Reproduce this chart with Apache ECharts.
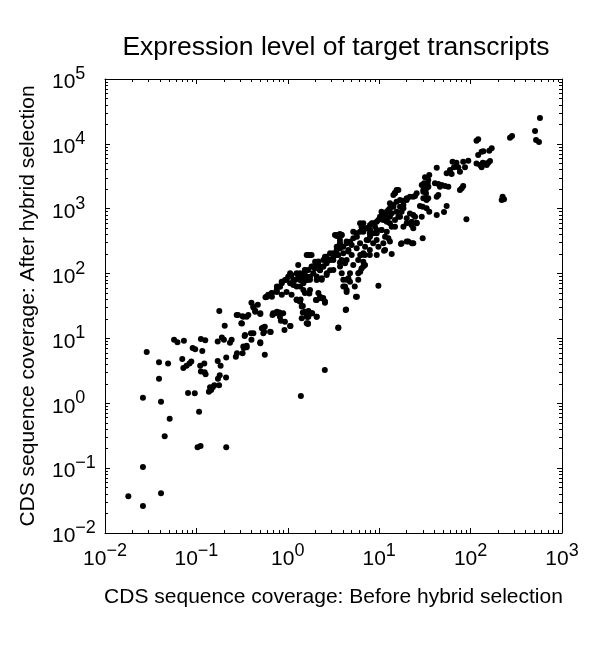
<!DOCTYPE html>
<html><head><meta charset="utf-8">
<script src="https://cdn.jsdelivr.net/npm/echarts@6/dist/echarts.min.js"></script>
<style>html,body{margin:0;padding:0;background:#fff}#c{width:600px;height:648px}</style>
</head><body><div id="c"></div>
<script>
const titleText = 'Expression level of target transcripts';
const xName = 'CDS sequence coverage: Before hybrid selection';
const yName = 'CDS sequence coverage: After hybrid selection';
const xTickExps = [-2, -1, 0, 1, 2, 3];
const yTickExps = [-2, -1, 0, 1, 2, 3, 4, 5];

// [before, after] CDS coverage per transcript
const samples = [
[0.0286,6.2],[0.026,1.22],[0.026,0.104],[0.018,0.037],[0.026,0.026],[0.041,0.041],
[0.039,4.3],[0.039,2.4],[0.041,1.06],[0.045,0.31],[0.051,0.58],[0.049,4.1],
[0.057,9.5],[0.062,8.7],[0.073,9.2],[0.070,4.8],[0.072,3.5],[0.078,3.8],[0.084,4.1],[0.088,4.4],
[0.081,1.44],[0.096,1.43],[0.091,7.1],[0.097,6.8],[0.116,6.4],[0.112,9.8],[0.125,9.4],
[0.110,3.8],[0.122,4.1],[0.123,3.0],[0.112,3.1],[0.126,2.8],[0.107,0.74],[0.103,0.21],[0.111,0.22],[0.212,0.21],
[0.178,26.5],[0.171,9.0],[0.19,10.3],[0.20,9.5],[0.204,15.7],[0.233,8.6],[0.171,4.5],[0.184,3.8],
[0.18,2.7],[0.172,2.4],[0.211,2.5],[0.141,1.77],[0.151,1.77],[0.157,1.9],[0.177,1.9],[0.137,1.5],[0.145,1.6],
[0.212,5.1],[0.27,5.2],[0.278,5.9],[0.32,5.9],[0.33,7.1],[0.355,7.3],[0.337,10.9],[0.315,17],
[0.285,23],[0.32,22],[0.355,21.6],[0.395,12],[0.40,35.6],[0.42,30],[0.44,26.8],[0.47,33],[0.50,23.8],
[0.50,8.7],[0.56,5.6],[0.54,14.7],[0.55,12.7],[0.65,12.6],[0.57,43],[0.61,47],[0.67,44],[0.68,23],[0.73,24.4],[0.81,25],
[0.84,18.8],[0.92,13.5],[1.07,15.6],[0.76,52],[0.86,47],[0.97,52],[1.10,47],[1.25,40],[1.36,37],
[1.46,31.6],[1.54,25.8],[1.65,21.6],[1.66,17.1],[1.39,1.3],
[2.54,3.26],[3.57,14.5],[4.3,27.4],[5.57,44],[1.66,16.7],[2.07,21.6],[1.61,21.6],[1.85,24.4],[1.68,26.5],[1.46,25.2],
[1.38,40],[2.03,39],[2.35,41.5],[2.55,35.6],[1.72,49.5],[4.4,52],
[284,13200],[270,12400],[121,11750],[116,11200],
[132,7570],[138,7670],[121,6730],[170,8550],[160,7850],
[116,5000],[127,4720],[132,4350],[144,5000],[156,5130],[163,5440],[150,4720],[136,5130],
[224,1530],[232,1400],[219,1360],[90,687],[80,2065],[83,2240],[76.5,1945],[42.6,4300],
[63.5,5300],[70,5130],[65.8,4350],[73.3,4350],[83,5300],[86.8,4350],[94.4,5500],[76.5,3720],
[54.7,3520],[62,3430],[59.5,3960],
[31.7,3050],[35.3,3310],[34.4,2770],[30.9,2470],[33.9,2470],
[40.7,2470],[44.3,2400],[48.3,2320],[52.5,2240],[57,2190],[46.2,2190],
[42.6,1530],[44.3,1630],[54.7,1100],[51.2,890],[42.6,800],
[33,2065],[30.4,1945],[32.5,1730],[34.4,1450],[33,1360],[30.4,1450],
[35.3,900],[29.9,1075],[27.9,1100],
[21.7,847],[24.7,753],[25.7,608],[22.6,561],[20,595],[18.4,527],[23.6,499],
[29.9,349],[17.3,286],[20,311],[22.8,293],
[15.5,1945],[14.9,1770],[14.3,1630],
[20,1450],[18.4,1330],[16.9,1360],[21.7,1530],[24.7,1570],
[13.1,1210],[14.3,1075],[12.6,955],[15.5,900],[13.7,849],[16.9,1075],[18.4,1014],
[10.6,900],[10.2,753],[11.6,800],[9.8,670],[11.1,670],[12.1,631],[13.1,595],[14.9,670],[16.9,753],[20,711],
[8.3,595],[9.0,528],[7.3,499],[7.9,418],[9.4,418],[10.6,470],[12.1,443],[13.7,528],[6.4,528],[6.7,443],
[11.6,371],[13.1,311],[11.6,231],[9.8,260],[8.6,293],[7.6,330],[7.0,260],[7.9,231],[6.7,206],[6.2,194],[5.7,371],[5.2,443],
[3.89,394],[3.43,380],[3.72,330],[4.4,311],[5.0,276],[4.6,231],[4.05,206],[3.57,194],[3.15,162],[3.72,148],[4.4,162],[5.2,136],[5.9,162],[6.4,194],
[3.89,101],[4.4,80],[4.05,63],[4.79,75],[5.9,80],[6.7,128],[7.0,136],[6.2,107],[5.4,63],[5.7,44],[9.8,65],
[1.36,101],[1.54,113],[1.68,193],[1.82,193],[1.61,90],[1.48,80],[1.75,80],[1.99,152],[2.16,136],[2.25,113],[2.44,128],[2.07,90],[2.35,80],
[2.67,101],[2.9,113],[2.78,162],[3.15,206],[3.43,260],[3.72,293],[3.28,394],[3.72,408],[2.55,182],[1.9,128],[1.36,63],[1.54,50],[1.75,56],[2.16,50],[2.25,42],[2.44,42],
[0.243,9.5],[0.326,7.5],[0.355,7.7],[0.40,9.5],[0.50,8.4],[0.34,11.3],[0.42,12],[0.54,12],[0.64,12.7],[0.56,15.2],[0.52,14.3],[0.31,17.1],
[0.276,23],[0.326,21.6],[0.37,23],[0.42,31],[0.44,25.8],[0.50,24.4],[0.59,44],[0.64,46.7],[0.69,24.4],[0.82,21.6],[0.76,25.8],[0.89,24.4],
[0.93,18.1],[1.06,15.6],[1.42,20.4],[1.68,21.6],[1.61,17.1],[2.07,21.6],[1.82,24.4],[1.68,25.8],[1.25,39],[1.36,37],[1.42,31],[2.07,39],[2.25,44],[2.55,37],
[3.57,14.7],[4.34,28],[4.4,56],[4.23,63],[4.05,80],[4.6,85],[4.79,101],[5.9,101],[6.4,120],[6.7,152],[7.0,193],[7.9,193],[9.4,193],
[11.3,225],[13.7,200],[17.6,293],[20.8,311],[23.6,293],
[0.587,44],[0.666,49.6],[0.756,55.8],[0.822,62.8],[0.857,75],[0.932,79.6],[1.01,89.7],[1.06,70.8],[1.15,66.7],[1.2,79.6],[1.30,89.7],[1.36,79.6],
[1.48,70.8],[1.61,79.6],[1.75,89.7],[1.90,101],[1.98,120],[2.07,136],[1.82,128],[1.68,114],[1.54,107],[1.42,95],[1.25,101],[1.10,95],
[2.25,114],[2.45,128],[2.66,144],[2.90,162],[3.15,182],[3.43,193],[2.90,205],[2.66,182],[2.45,162],[2.16,153],[3.43,231],[3.73,245],
[4.05,260],[4.41,293],[4.79,310],[5.21,349],[5.67,418],[6.17,443],[6.70,470],[7.29,499],[7.93,561],[8.63,595],[9.38,631],[10.2,711],
[11.1,800],[12.1,901],[13.1,1014],[14.3,1141],[15.5,1285],[14.9,1726],[16.2,1944],[6.17,595],[6.70,595],[7.93,470],[9.38,470],[10.6,470],
[12.1,670],[13.1,753],[3.43,393],[3.88,393],[3.88,162],[4.23,144],[3.73,128],[3.15,114],[2.66,95],[2.35,84.5],[2.07,79.6],[1.61,193],[1.75,193],
[4.59,218],[5.0,193],[5.67,245],[6.17,293],[7.29,330],[7.93,371],[8.63,418],[9.38,330],[11.1,293],[12.6,349],[14.9,528],[16.2,755],
[17.6,901],[18.4,1141],[20.0,1365],[23.6,1535],[25.7,1726],[29.2,2322],[30.4,1833],[33.0,1445],[23.6,800],[22.7,631],[25.7,595],[29.2,755],
[33.0,1014],[34.5,2190],
[1.30,136],[1.06,101],[0.97,80],[0.86,71],[0.76,63],[0.67,50],[1.15,80],[1.36,90],[1.54,114],[1.25,63],[1.48,56],[1.68,80],
[574,25000],[507,15800],[520,11500],[560,10700]
];

const FONT = 'Liberation Sans';
const xMajor = xTickExps.map(e => Math.pow(10, e));
const yMajor = yTickExps.map(e => Math.pow(10, e));
function minors(exps) {
  const out = [];
  for (let i = 0; i < exps.length - 1; i++) {
    for (let m = 2; m <= 9; m++) out.push(m * Math.pow(10, exps[i]));
  }
  return out;
}
const xMinor = minors(xTickExps);
const yMinor = minors(yTickExps);

function fmt(v) {
  const e = Math.round(Math.log10(v));
  return '{b|10}{s|' + (e < 0 ? '\u2212' + (-e) : String(e)) + '}';
}
const rich = {
  b: { fontFamily: FONT, fontSize: 21, color: '#000', lineHeight: 28, verticalAlign: 'bottom' },
  s: { fontFamily: FONT, fontSize: 18, color: '#000', lineHeight: 18, verticalAlign: 'top' }
};
const line = { show: true, lineStyle: { color: '#000', width: 1 } };

function axis(kind, pos, major, minor, isMain, extent) {
  const a = {
    type: 'log', logBase: 10, min: extent[0], max: extent[1], position: pos,
    gridIndex: 0,
    axisLine: isMain === 'minor' ? { show: false } : line,
    splitLine: { show: false },
    axisTick: {
      show: true, inside: true,
      length: isMain === 'minor' ? 3 : 5,
      customValues: isMain === 'minor' ? minor : major,
      lineStyle: { color: '#000', width: 1 }
    },
    axisLabel: { show: false },
    minorTick: { show: false },
    z: 5
  };
  if (isMain === 'label') {
    a.axisLabel = {
      show: true, customValues: major, formatter: fmt, rich: rich,
      margin: kind === 'x' ? 9 : 53,
      align: kind === 'x' ? 'center' : 'left'
    };
    a.name = kind === 'x' ? xName : yName;
    a.nameLocation = 'middle';
    a.nameGap = kind === 'x' ? 54 : 66;
    a.nameTextStyle = { fontFamily: FONT, fontSize: 21, color: '#000' };
  }
  return a;
}
const xExt = [xMajor[0], xMajor[xMajor.length - 1]];
const yExt = [yMajor[0], yMajor[yMajor.length - 1]];

const chart = echarts.init(document.getElementById('c'), null, { renderer: 'canvas' });
chart.setOption({
  backgroundColor: '#fff',
  animation: false,
  title: {
    text: titleText, left: 331, top: 29, textAlign: 'center',
    textStyle: { fontFamily: FONT, fontSize: 26.5, fontWeight: 'normal', color: '#000' }
  },
  grid: { left: 105, right: 38, top: 79, bottom: 115, containLabel: false },
  xAxis: [
    axis('x', 'bottom', xMajor, xMinor, 'label', xExt),
    axis('x', 'bottom', xMajor, xMinor, 'minor', xExt),
    axis('x', 'top', xMajor, xMinor, 'major', xExt),
    axis('x', 'top', xMajor, xMinor, 'minor', xExt)
  ],
  yAxis: [
    axis('y', 'left', yMajor, yMinor, 'label', yExt),
    axis('y', 'left', yMajor, yMinor, 'minor', yExt),
    axis('y', 'right', yMajor, yMinor, 'major', yExt),
    axis('y', 'right', yMajor, yMinor, 'minor', yExt)
  ],
  series: [{
    type: 'scatter', xAxisIndex: 0, yAxisIndex: 0,
    symbol: 'circle', symbolSize: 6,
    itemStyle: { color: '#000', opacity: 1 },
    data: samples
  }]
});
</script>
</body></html>
